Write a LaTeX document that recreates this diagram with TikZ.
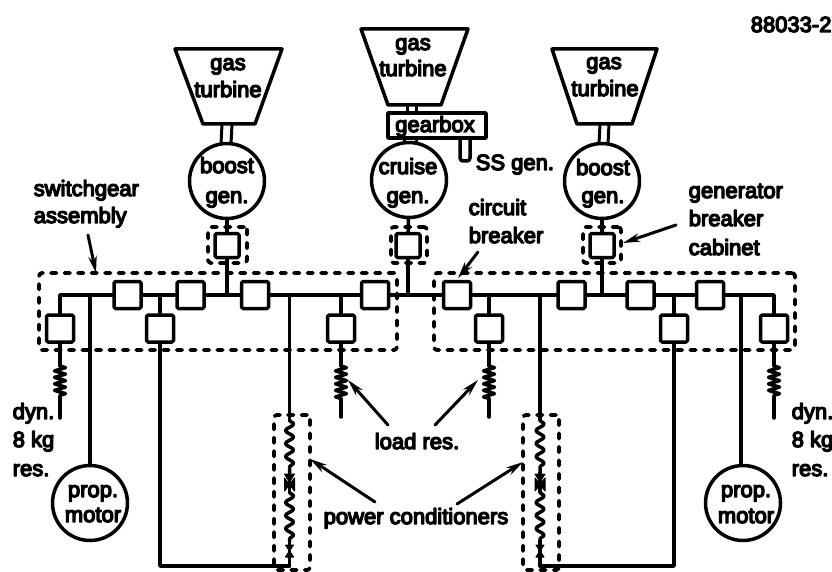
\documentclass[tikz,border=0pt]{standalone}
\usepackage{fontspec}
\setmainfont{Liberation Sans}[FakeBold=6]
\usetikzlibrary{arrows.meta,decorations.pathmorphing,shapes.geometric}
\tikzset{
  lw/.style={line width=3.5pt,line cap=round,line join=round},
  txt/.style={inner sep=0pt,anchor=base,font=\fontsize{22}{24}\selectfont},
  txtl/.style={inner sep=0pt,anchor=base west,font=\fontsize{22}{24}\selectfont},
  cb/.style={draw,lw,fill=white,rounded corners=1.5pt,inner sep=0pt,minimum width=27pt,minimum height=27pt},
  gencb/.style={cb,minimum width=24pt,minimum height=24pt},
  dbox/.style={draw,line width=3.8pt,dash pattern=on 5.5pt off 8pt,rounded corners=3pt,inner sep=0pt},
  gen/.style={draw,lw,circle,inner sep=0pt,minimum size=75pt},
  shaft/.style={lw,line width=3pt},
  ptr/.style={line width=3pt,-{Stealth[length=17pt,width=8.5pt]}},
  res/.style={lw,decoration={zigzag,amplitude=5.5pt,segment length=6.5pt},decorate},
  pcc/.style={lw,decoration={snake,amplitude=4pt,segment length=13pt},decorate},
  tie/.style={fill=black,draw=black,line width=1pt}
}
\begin{document}
\begin{tikzpicture}[x=1pt,y=-1pt,lw]
\useasboundingbox (0,0) rectangle (832,572);
% turbines
\draw[lw] (175,49)--(282,49)--(255,124)--(203,124)--cycle;
\draw[lw] (361,29)--(468,29)--(441,105)--(388,105)--cycle;
\draw[lw] (552,49)--(657,49)--(632,124)--(577,124)--cycle;
\draw[shaft] (222,124)--(221,144) (232,124)--(231,144);
\draw[shaft] (407,105)--(407,113) (416,105)--(416,113);
\draw[shaft] (600,124)--(599,144) (609,124)--(608,144);
\draw[shaft] (404,138)--(404,143) (416,138)--(416,143);
% gearbox and SS gen
\draw[lw] (388,113) rectangle (486,138);
\draw[lw,rounded corners=3pt] (460,138)--(460,161)--(470,161)--(470,138);
% generators
\node[gen] (g1) at (227,181) {};
\node[gen] (g2) at (409,180) {};
\node[gen] (g3) at (602,181) {};
\node[gen] (m1) at (90,503) {};
\node[gen] (m2) at (743,503) {};
% cabinets
\node[dbox,minimum width=39pt,minimum height=36pt] (c1) at (227.5,245) {};
\node[dbox,minimum width=36pt,minimum height=36pt] (c2) at (409,245) {};
\node[dbox,minimum width=38pt,minimum height=36pt] (c3) at (602,245) {};
% switchgear boxes
\node[dbox,minimum width=358pt,minimum height=77pt] (s1) at (218,311.5) {};
\node[dbox,minimum width=361pt,minimum height=77pt] (s2) at (614.5,311.5) {};
% power conditioner boxes
\node[dbox,minimum width=36pt,minimum height=155pt] (p1) at (292,492.5) {};
\node[dbox,minimum width=36pt,minimum height=155pt] (p2) at (541,492.5) {};
% breakers on generators
\node[gencb] (k1) at (227,245.5) {};
\node[gencb] (k2) at (408,245.5) {};
\node[gencb] (k3) at (602,245.5) {};
% bus breakers
\node[cb] (b1) at (127.5,295) {};
\node[cb] (b2) at (190.5,295) {};
\node[cb] (b3) at (255,295) {};
\node[cb] (b4) at (375,295) {};
\node[cb] (b5) at (457,295) {};
\node[cb] (b6) at (571.5,295) {};
\node[cb] (b7) at (640.5,295) {};
\node[cb] (b8) at (710,295) {};
% lower breakers
\node[cb] (l1) at (60,328.5) {};
\node[cb] (l2) at (160,328.5) {};
\node[cb] (l3) at (341,328.5) {};
\node[cb] (l4) at (489,328.5) {};
\node[cb] (l5) at (674,328.5) {};
\node[cb] (l6) at (774,328.5) {};
% bus
\draw[lw] (l1) |- (b1);
\draw[lw] (b1)--(b2)--(b3)--(b4)--(b5)--(b6)--(b7)--(b8);
\draw[lw] (l6) |- (b8);
\draw[lw] (l2)--(l2 |- b1);
\draw[lw] (l3)--(l3 |- b1);
\draw[lw] (l4)--(l4 |- b1);
\draw[lw] (l5)--(l5 |- b1);
\draw[lw] (g1)--(k1);
\draw[lw] (g2)--(k2);
\draw[lw] (g3)--(k3);
\draw[lw] (k1)--(k1 |- b1);
\draw[lw] (k2)--(k2 |- b1);
\draw[lw] (k3)--(k3 |- b1);
% prop motors
\draw[lw] (m1)--(m1 |- b1);
\coordinate (m2t) at (741,465);
\draw[lw] (m2t)--(m2t |- b1);
% dynamic and load resistors
\foreach \n/\a/\b/\c in {l1/366/397/418, l3/366/399/417, l4/366/399/417, l6/366/397/418}{
  \coordinate (\n a) at (\n |- 0,\a);
  \coordinate (\n b) at (\n |- 0,\b);
  \coordinate (\n c) at (\n |- 0,\c);
  \draw[lw] (\n)--(\n a);
  \draw[res] (\n a)--(\n b);
  \draw[lw] (\n b)--(\n c);
}
% power conditioners
\coordinate (t1) at (289.5,295);
\coordinate (t2) at (540,295);
\foreach \t/\x in {t1/289.5,t2/540}{
  \coordinate (\t a) at (\x,420);
  \coordinate (\t b) at (\x,473);
  \coordinate (\t c) at (\x,492);
  \coordinate (\t d) at (\x,541);
  \coordinate (\t e) at (\x,566);
  \draw[lw] (\t |- b1)--(\t a);
  \draw[pcc] (\t a)--(\t b);
  \draw[lw] (\t b)--(\t c);
  \draw[pcc] (\t c)--(\t d);
  \draw[lw] (\t d)--(\t e);
  \draw[tie] (\x-5,474)--(\x+5,474)--(\x,482)--cycle;
  \draw[tie] (\x-5,491)--(\x+5,478)--(\x+5,491)--(\x-5,478)--cycle;
  \draw[tie] (\x-4,545)--(\x+4,545)--(\x-4,557)--(\x+4,557)--cycle;
}
\draw[lw] (l2) |- (t1e);
\draw[lw] (l5) |- (t2e);
% labels
\node[txt] (n1) at (228,70) {gas};
\node[txt] (n2) at (228,97) {turbine};
\node[txt] (n3) at (227,173) {boost};
\node[txt] (n4) at (227,203) {gen.};
\node[txt] (n5) at (413,50) {gas};
\node[txt] (n6) at (413,76) {turbine};
\node[txt] (n7) at (435,132) {gearbox};
\node[txt] (n8) at (408,174) {cruise};
\node[txt] (n9) at (408,203) {gen.};
\node[txt] (n10) at (604,69) {gas};
\node[txt] (n11) at (605,96) {turbine};
\node[txt] (n12) at (603,175) {boost};
\node[txt] (n13) at (603,203) {gen.};
\node[txtl] (n14) at (474,170) {SS gen.};
\node[txtl] (n15) at (467,215) {circuit};
\node[txtl] (n16) at (467,243) {breaker};
\node[txtl] (n17) at (687,198) {generator};
\node[txtl] (n18) at (687,226) {breaker};
\node[txtl] (n19) at (687,255) {cabinet};
\node[txtl] (n20) at (749,32) {88033-2};
\node[txtl] (n21) at (32,196) {switchgear};
\node[txtl] (n22) at (32,223) {assembly};
\node[txtl] (n23) at (11,419) {dyn.};
\node[txtl] (n24) at (11,447) {8 kg};
\node[txtl] (n25) at (11,476) {res.};
\node[txtl] (n26) at (790,419) {dyn.};
\node[txtl] (n27) at (790,447) {8 kg};
\node[txtl] (n28) at (790,476) {res.};
\node[txt] (n29) at (93,497) {prop.};
\node[txt] (n30) at (93,522) {motor};
\node[txt] (n31) at (746,497) {prop.};
\node[txt] (n32) at (746,523) {motor};
\node[txt] (n33) at (417,449) {load res.};
\node[txt] (n34) at (416,524) {power conditioners};
% pointers
\coordinate (a1) at (88,235); \coordinate (a1e) at (96,273);
\coordinate (a2) at (478,252); \coordinate (a2e) at (458,278);
\coordinate (a3) at (676,225); \coordinate (a3e) at (623,243);
\coordinate (a4) at (388,425); \coordinate (a4e) at (348,380);
\coordinate (a5) at (435,425); \coordinate (a5e) at (478,380);
\coordinate (a6) at (375,502); \coordinate (a6e) at (310,459);
\coordinate (a7) at (457,504); \coordinate (a7e) at (523,462);
\foreach \p in {a1,a2,a3,a4,a5,a6,a7}{ \draw[ptr] (\p)--(\p e); }
\end{tikzpicture}
\end{document}
